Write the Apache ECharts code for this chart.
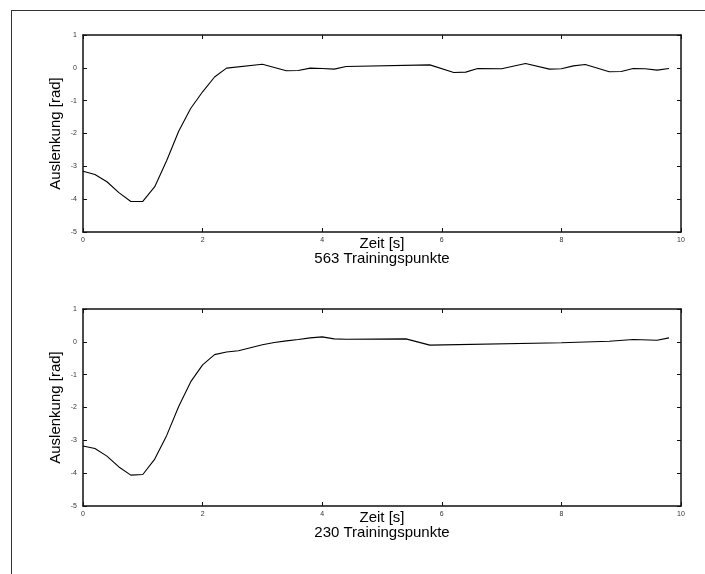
<!DOCTYPE html>
<html>
<head>
<meta charset="utf-8">
<script src="https://cdn.jsdelivr.net/npm/echarts@6/dist/echarts.min.js"></script>
<style>
  html, body { margin: 0; padding: 0; background: #fff; }
  #frame {
    position: absolute; left: 11px; top: 10px; right: 0; bottom: 0;
    border-top: 1.5px solid #333; border-left: 1.5px solid #333;
  }
  #chart { position: absolute; left: 0; top: 0; width: 705px; height: 574px; }
</style>
</head>
<body>
<div id="frame"></div>
<div id="chart"></div>
<script>
// tick labels
const xTicks = [0, 2, 4, 6, 8, 10];
const yTicks = [-5, -4, -3, -2, -1, 0, 1];

// oberes Diagramm: 563 Trainingspunkte
const time1 = [0, 0.2, 0.4, 0.6, 0.8, 1.0, 1.2, 1.4, 1.6, 1.8, 2.0, 2.2, 2.4, 3.0, 3.4, 3.6, 3.8, 4.0, 4.2, 4.4,
  5.8, 6.2, 6.4, 6.6, 7.0, 7.4, 7.8, 8.0, 8.2, 8.4, 8.8, 9.0, 9.2, 9.4, 9.6, 9.8];
const angle1 = [-3.15, -3.25, -3.47, -3.8, -4.07, -4.07, -3.62, -2.82, -1.93, -1.24, -0.73, -0.28, -0.01, 0.11, -0.09, -0.08, -0.01, -0.02, -0.04, 0.04,
  0.09, -0.14, -0.13, -0.02, -0.03, 0.13, -0.04, -0.03, 0.06, 0.1, -0.12, -0.11, -0.02, -0.03, -0.07, -0.02];

// unteres Diagramm: 230 Trainingspunkte
const time2 = [0, 0.2, 0.4, 0.6, 0.8, 1.0, 1.2, 1.4, 1.6, 1.8, 2.0, 2.2, 2.4, 2.6, 2.8, 3.0, 3.2, 3.4, 3.6, 3.8, 4.0, 4.2, 4.4,
  5.4, 5.8, 8.0, 8.8, 9.2, 9.6, 9.8];
const angle2 = [-3.17, -3.25, -3.48, -3.81, -4.06, -4.04, -3.57, -2.85, -1.97, -1.22, -0.7, -0.39, -0.31, -0.27, -0.18, -0.09, -0.02, 0.03, 0.07, 0.12, 0.15, 0.09, 0.08,
  0.09, -0.1, -0.03, 0.02, 0.07, 0.05, 0.12];

const titles = ['563 Trainingspunkte', '230 Trainingspunkte'];

const chart = echarts.init(document.getElementById('chart'));

const axisLine = {show: true, onZero: false, lineStyle: {color: '#111', width: 1.5}};
const tickLabel = {fontSize: 7, color: '#333', fontFamily: 'Liberation Sans'};

const makeX = (gridIndex, title) => ([
  {
    type: 'value', gridIndex, position: 'bottom',
    min: xTicks[0], max: xTicks[xTicks.length - 1], interval: xTicks[1] - xTicks[0],
    axisLine, splitLine: {show: false},
    axisTick: {inside: true, length: 4, lineStyle: {color: '#111'}},
    axisLabel: {...tickLabel, margin: 5},
    name: 'Zeit [s]\n' + title,
    nameLocation: 'middle', nameGap: 4, nameMoveOverlap: false,
    nameTextStyle: {fontSize: 15, lineHeight: 15, color: '#000', fontFamily: 'Liberation Sans', verticalAlign: 'top'}
  },
  {
    type: 'value', gridIndex, position: 'top',
    min: xTicks[0], max: xTicks[xTicks.length - 1], interval: xTicks[1] - xTicks[0],
    axisLine, splitLine: {show: false},
    axisTick: {inside: true, length: 4, lineStyle: {color: '#111'}},
    axisLabel: {show: false}
  }
]);

const makeY = (gridIndex) => ([
  {
    type: 'value', gridIndex, position: 'left',
    min: yTicks[0], max: yTicks[yTicks.length - 1], interval: yTicks[1] - yTicks[0],
    axisLine, splitLine: {show: false},
    axisTick: {inside: true, length: 4, lineStyle: {color: '#111'}},
    axisLabel: {...tickLabel, margin: 6},
    name: 'Auslenkung [rad]',
    nameLocation: 'middle', nameGap: 20, nameMoveOverlap: false,
    nameTextStyle: {fontSize: 15, color: '#000', fontFamily: 'Liberation Sans'}
  },
  {
    type: 'value', gridIndex, position: 'right',
    min: yTicks[0], max: yTicks[yTicks.length - 1], interval: yTicks[1] - yTicks[0],
    axisLine, splitLine: {show: false},
    axisTick: {inside: true, length: 4, lineStyle: {color: '#111'}},
    axisLabel: {show: false}
  }
]);

const lineSeries = (idx, times, values) => ({
  type: 'line',
  xAxisIndex: idx * 2,
  yAxisIndex: idx * 2,
  data: times.map((t, i) => [t, values[i]]),
  showSymbol: false,
  silent: true,
  lineStyle: {color: '#000', width: 1.1},
  animation: false
});

const option = {
  backgroundColor: 'transparent',
  animation: false,
  grid: [
    {left: 83, right: 24, top: 35, height: 197},
    {left: 83, right: 24, top: 309, height: 197}
  ],
  xAxis: [...makeX(0, titles[0]), ...makeX(1, titles[1])],
  yAxis: [...makeY(0), ...makeY(1)],
  series: [
    lineSeries(0, time1, angle1),
    lineSeries(1, time2, angle2)
  ]
};

chart.setOption(option);
</script>
</body>
</html>
